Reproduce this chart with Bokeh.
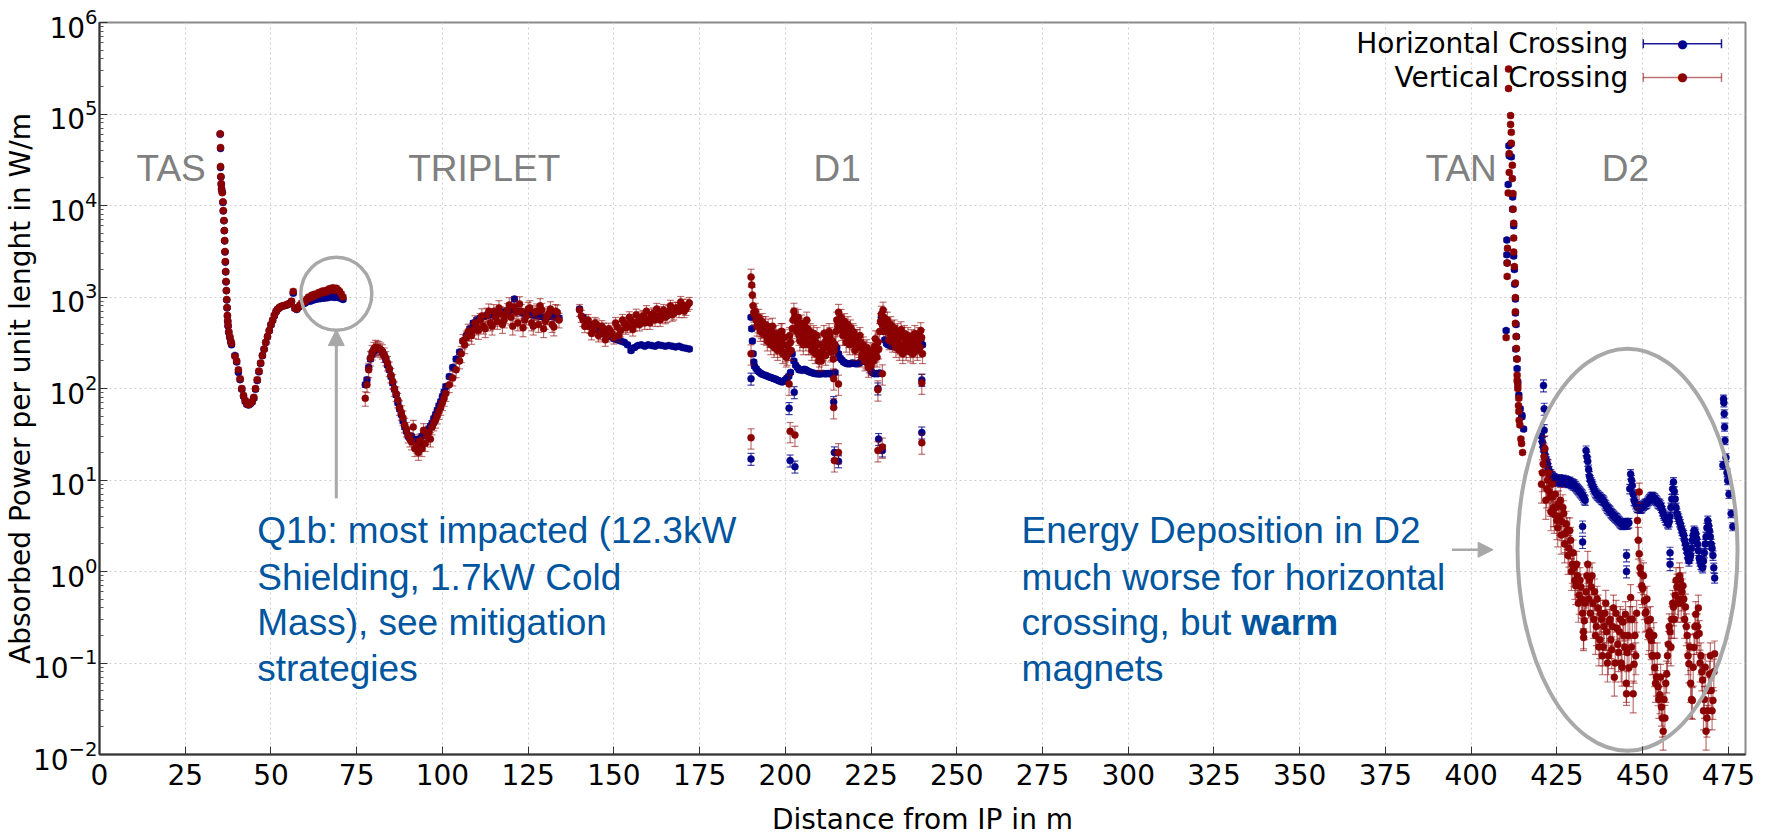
from bokeh.plotting import figure
from bokeh.models import (FixedTicker, LogTickFormatter, Label, Arrow, NormalHead,
                          TeeHead, Range1d, ColumnDataSource)
from bokeh.embed import file_html
from bokeh.resources import INLINE

# ---------------- data ----------------
# Segment A : TAS spike
xA = [35.2, 35.3, 35.3, 35.4, 35.5, 35.6, 35.8, 36.0, 36.1, 36.3, 36.4, 36.5, 36.6,
      36.7, 36.8, 36.9, 37.0, 37.1, 37.2, 37.3, 37.4, 37.5, 37.7, 38.0, 38.3, 38.5]
yA_v = [61000, 43000, 26700, 20700, 17400, 15300, 13800, 11000, 8800, 6850, 5330, 4140, 3140,
        2440, 1900, 1480, 1180, 940, 770, 630, 550, 490, 420, 370, 330, 310]
yA_h = [60000, 42000, 26000, 20500, 17000, 15000, 14000, 10800, 8700, 6800, 5300, 4100, 3100,
        2400, 1880, 1460, 1170, 930, 760, 620, 540, 480, 410, 360, 320, 300]

# Segment B : first dip and Q1 rise
xB = [39.5, 40.0, 40.5, 41.0, 41.5, 42.0, 42.5, 43.0,
      43.5, 44.0, 44.5, 45.0, 45.5, 46.0, 46.5, 47.0,
      47.5, 48.0, 48.5, 49.0, 49.5, 50.0, 50.5, 51.0,
      51.5, 52.0, 52.5, 53.0, 53.5, 54.0, 54.5, 55.0,
      55.5, 56.0, 56.5, 57.0, 57.5, 58.0, 58.5, 59.0,
      59.5, 60.0, 60.5, 61.0, 61.5, 62.0, 62.5, 63.0,
      63.5, 64.0, 64.5, 65.0, 65.5, 66.0, 66.5, 67.0,
      67.5, 68.0, 68.5, 69.0, 69.5, 70.0, 70.5, 71.0]
yB_v = [225, 200, 160, 128, 100, 84, 74, 68,
        67, 69, 72, 80, 100, 125, 155, 190,
        230, 270, 320, 370, 430, 500, 560, 630,
        700, 740, 770, 790, 800, 810, 820, 840,
        850, 900, 1150, 760, 740, 780, 820, 860,
        880, 900, 950, 1000, 980, 1050, 1020, 1080,
        1060, 1120, 1100, 1160, 1120, 1180, 1150, 1230,
        1200, 1260, 1180, 1250, 1200, 1150, 1080, 1000]
yB_h = [230, 195, 150, 125, 98, 82, 72, 67,
        66, 68, 71, 78, 98, 122, 152, 188,
        228, 268, 318, 368, 428, 495, 555, 625,
        690, 735, 765, 785, 795, 805, 815, 835,
        845, 890, 1100, 750, 730, 770, 800, 830,
        850, 860, 890, 910, 900, 930, 930, 950,
        950, 960, 960, 980, 970, 990, 980, 1000,
        1000, 1010, 990, 1000, 990, 980, 960, 940]

# Segment C : triplet
xC = [77.5, 78.0, 78.5, 79.0, 79.5, 80.0, 80.5, 81.0,
      81.5, 82.0, 82.5, 83.0, 83.5, 84.0, 84.5, 85.0,
      85.5, 86.0, 86.5, 87.0, 87.5, 88.0, 88.5, 89.0,
      89.5, 90.0, 90.5, 91.0, 91.5, 92.0, 92.5, 93.0,
      93.5, 94.0, 94.5, 95.0, 95.5, 96.0, 96.5, 97.0,
      97.5, 98.0, 98.5, 99.0, 99.5, 100.0, 100.5, 101.0,
      102, 103, 104, 105, 106, 107, 108, 109,
      110, 111, 112, 113, 114, 115, 116, 117,
      118, 119, 120, 121, 122, 123, 124, 125,
      126, 127, 128, 129, 130, 131, 132, 133, 134]
yC_v = [78, 110, 160, 215, 250, 270, 285, 280,
        275, 265, 255, 235, 215, 190, 165, 140,
        120, 100, 88, 75, 62, 55, 48, 40,
        36, 31, 28, 26, 38, 22, 24, 20,
        27, 22, 35, 25, 30, 33, 28, 38,
        42, 45, 50, 56, 62, 70, 78, 88,
        110, 130, 160, 200, 330, 360, 400, 430,
        470, 560, 480, 640, 520, 700, 540, 660,
        560, 720, 600, 780, 520, 700, 560, 740,
        520, 680, 500, 720, 540, 660, 500, 700, 560]
yC_h = [110, 125, 170, 210, 235, 255, 270, 275,
        270, 262, 250, 230, 205, 180, 160, 135,
        115, 98, 85, 70, 60, 52, 44, 38,
        34, 30, 29, 30, 28, 27, 26, 28,
        24, 30, 31, 33, 34, 36, 39, 42,
        47, 52, 58, 65, 72, 82, 92, 105,
        135, 170, 210, 250, 330, 380, 450, 520,
        560, 590, 610, 630, 640, 660, 670, 680,
        690, 700, 720, 950, 700, 680, 660, 650,
        640, 630, 620, 610, 600, 610, 620, 600, 590]
# extra vertical-crossing points in the noisy triplet plateau
xC2 = [105.5, 106.5, 107.5, 108.5, 109.5, 110.5, 111.5, 112.5, 113.5, 114.5,
       115.5, 116.5, 117.5, 118.5, 119.5, 120.5, 121.5, 122.5, 123.5, 124.5,
       125.5, 126.5, 127.5, 128.5, 129.5, 130.5, 131.5, 132.5, 133.5]
yC2_v = [240, 300, 420, 380, 520, 430, 620, 450, 700, 480,
         600, 760, 500, 640, 820, 480, 680, 840, 460, 620,
         760, 480, 700, 800, 450, 620, 740, 470, 680]

# Segment D : 140 - 172 m
xD = [140, 141, 142, 143, 144, 145, 146, 147, 148, 149, 150,
      151, 152, 153, 154, 155, 156, 157, 158, 159, 160, 161,
      162, 163, 164, 165, 166, 167, 168, 169, 170, 171, 172]
yD_v = [720, 560, 520, 470, 440, 500, 400, 450, 380, 420, 360,
        470, 430, 520, 480, 560, 500, 540, 600, 520, 580, 640,
        560, 620, 680, 600, 700, 640, 760, 700, 820, 740, 860]
yD_h = [740, 600, 540, 500, 470, 440, 420, 400, 380, 370, 350,
        340, 330, 320, 300, 260, 280, 295, 300, 290, 300, 295,
        290, 300, 295, 290, 295, 290, 285, 290, 280, 275, 270]
xD2 = [140.5, 141.5, 142.5, 143.5, 144.5, 145.5, 146.5, 147.5, 148.5, 149.5,
       150.5, 151.5, 152.5, 153.5, 154.5, 155.5, 156.5, 157.5, 158.5, 159.5,
       160.5, 161.5, 162.5, 163.5, 164.5, 165.5, 166.5, 167.5, 168.5, 169.5,
       170.5, 171.5]
yD2_v = [620, 480, 560, 400, 520, 380, 480, 340, 450, 400,
         520, 380, 560, 460, 600, 440, 640, 500, 620, 700,
         520, 660, 740, 560, 720, 620, 800, 660, 760, 880,
         700, 820]

# Segment E : D1
xE = [190.0, 190.2, 190.4, 190.6, 190.8,
      191.0, 191.5, 192.0, 192.5, 193.0, 193.5, 194.0, 194.5, 195.0, 195.5,
      196.0, 196.5, 197.0, 197.5, 198.0, 198.5, 199.0, 199.5, 200.0, 200.5,
      201.0, 201.5, 202.0, 202.5, 203.0, 203.5, 204.0, 204.5, 205.0, 205.5,
      206.0, 206.5, 207.0, 207.5, 208.0, 208.5, 209.0, 209.5, 210.0, 210.5,
      211.0, 211.5, 212.0, 212.5, 213.0, 213.5, 214.0, 214.5, 215.0, 215.5,
      216.0, 216.5, 217.0, 217.5, 218.0, 218.5, 219.0, 219.5, 220.0, 220.5,
      221.0, 221.5, 222.0, 222.5, 223.0, 223.5, 224.0, 224.5, 225.0, 225.5,
      226.0, 226.5, 227.0, 227.5, 228.0, 228.5, 229.0, 229.5, 230.0, 230.5,
      231.0, 231.5, 232.0, 232.5, 233.0, 233.5, 234.0, 234.5, 235.0, 235.5,
      236.0, 236.5, 237.0, 237.5, 238.0, 238.5, 239.0, 239.5, 240.0]
yE_v = [1650, 1350, 1050, 800, 680,
        640, 560, 520, 470, 450, 500, 420, 380, 470, 360,
        420, 390, 330, 300, 360, 280, 420, 300, 250, 230,
        260, 320, 450, 700, 560, 480, 380, 440, 360, 420,
        330, 450, 380, 300, 350, 280, 320, 250, 220, 200,
        260, 320, 360, 300, 380, 260, 210, 300, 560, 680,
        520, 430, 480, 380, 440, 360, 460, 340, 400, 300,
        360, 280, 320, 240, 270, 210, 230, 190, 180, 230,
        290, 250, 320, 420, 650, 720, 560, 480, 430, 400,
        450, 360, 400, 320, 350, 300, 380, 280, 340, 300,
        330, 250, 300, 280, 340, 260, 380, 430, 240]
yE_h = [600, 450, 330, 240, 195,
        175, 165, 155, 150, 145, 142, 140, 138, 135, 133,
        131, 129, 127, 125, 122, 120, 118, 120, 125, 130,
        136, 150, 240, 200, 180, 170, 160, 160, 158, 162,
        160, 155, 152, 150, 148, 146, 145, 145, 144, 145,
        146, 145, 145, 146, 145, 144, 145, 150, 280, 240,
        215, 205, 195, 190, 187, 186, 187, 190, 188, 187,
        186, 190, 195, 200, 205, 200, 190, 170, 155, 148,
        145, 146, 145, 148, 600, 420, 340, 310, 300, 295,
        290, 288, 285, 283, 280, 280, 282, 280, 278, 280,
        282, 285, 280, 283, 290, 300, 320, 340, 300]
xE2 = [191.25, 191.75, 192.25, 192.75, 193.25, 193.75, 194.25, 194.75, 195.25, 195.75,
       196.25, 196.75, 197.25, 197.75, 198.25, 198.75, 199.25, 199.75, 200.25, 200.75,
       201.25, 201.75, 202.25, 202.75, 203.25, 203.75, 204.25, 204.75, 205.25, 205.75,
       206.25, 206.75, 207.25, 207.75, 208.25, 208.75, 209.25, 209.75, 210.25, 210.75,
       211.25, 211.75, 212.25, 212.75, 213.25, 213.75, 214.25, 214.75, 215.25, 215.75,
       216.25, 216.75, 217.25, 217.75, 218.25, 218.75, 219.25, 219.75, 220.25, 220.75,
       221.25, 221.75, 222.25, 222.75, 223.25, 223.75, 224.25, 224.75, 225.25, 225.75,
       226.25, 226.75, 227.25, 227.75, 228.25, 228.75, 229.25, 229.75, 230.25, 230.75,
       231.25, 231.75, 232.25, 232.75, 233.25, 233.75, 234.25, 234.75, 235.25, 235.75,
       236.25, 236.75, 237.25, 237.75, 238.25, 238.75, 239.25, 239.75]
yE2_v = [700, 480, 600, 420, 540, 390, 500, 330, 420, 300,
         480, 280, 400, 260, 330, 420, 240, 360, 220, 300,
         380, 260, 560, 620, 420, 600, 330, 520, 300, 480,
         560, 300, 420, 260, 400, 240, 380, 200, 300, 250,
         400, 230, 280, 420, 250, 330, 260, 420, 480, 560,
         600, 380, 540, 320, 500, 300, 380, 420, 260, 360,
         300, 380, 220, 300, 200, 280, 170, 260, 220, 200,
         350, 220, 270, 540, 500, 600, 420, 560, 340, 500,
         320, 460, 280, 420, 260, 440, 240, 400, 260, 380,
         280, 360, 240, 400, 300, 330, 280, 360]

# Segment F : TAN spike (each crossing has its own positions)
xF_v = [410.9, 410.9, 411.5, 411.5, 411.7, 411.7, 411.1, 412.0, 411.1, 412.0,
        410.8, 412.2, 412.2, 412.4, 412.4, 410.6, 412.4, 410.5, 410.5, 412.6,
        412.9, 412.9, 412.9, 412.9, 413.1, 410.2, 413.2, 413.4, 413.4, 413.6,
        413.9, 413.9, 413.4, 413.6, 413.8, 414.0, 414.2, 414.5, 414.7, 415.0]
yF_v = [310000, 190000, 96000, 77000, 63000, 48000, 37000, 27500, 23000, 19700,
        13700, 13500, 9100, 6400, 4400, 3400, 3100, 2350, 1680, 2150,
        1420, 985, 690, 515, 370, 360, 274, 210, 140, 109,
        78, 56, 122, 100, 65, 45, 40, 28, 25, 20]
xF_h = [411.0, 411.6, 411.1, 411.7, 410.8, 412.1, 412.1, 412.4, 410.4, 410.4,
        412.4, 410.5, 412.6, 412.7, 412.9, 412.9, 413.1, 410.2, 413.2, 413.4,
        413.6, 413.9, 414.3, 414.8, 414.8, 415.3, 413.0, 413.3]
yF_h = [45000, 47000, 35000, 34000, 17000, 12400, 9100, 6000, 4200, 2900,
        2800, 2350, 2000, 1380, 950, 670, 500, 430, 370, 165,
        118, 85, 60, 51, 49, 36, 270, 210]

# Segment G : D2
xG = [420.5, 421.0, 421.5, 422.0, 422.5, 423.0, 423.5, 424.0, 424.5, 425.0,
      425.5, 426.0, 426.5, 427.0, 427.5, 428.0, 428.5, 429.0, 429.5, 430.0,
      430.5, 431.0, 431.5, 432.0, 432.5, 433.0, 433.5, 434.0, 434.5, 435.0,
      435.5, 436.0, 436.5, 437.0, 437.5, 438.0, 438.5, 439.0, 439.5, 440.0,
      440.5, 441.0, 441.5, 442.0, 442.5, 443.0, 443.5, 444.0, 444.5, 445.0,
      445.5, 446.0, 446.5, 447.0, 447.5, 448.0, 448.5, 449.0, 449.5, 450.0,
      450.5, 451.0, 451.5, 452.0, 452.5, 453.0, 453.5, 454.0, 454.5, 455.0,
      455.5, 456.0, 456.5, 457.0, 457.5, 458.0, 458.5, 459.0, 459.5, 460.0,
      460.5, 461.0, 461.5, 462.0, 462.5, 463.0, 463.5, 464.0, 464.5, 465.0,
      465.5, 466.0, 466.5, 467.0, 467.5, 468.0, 468.5, 469.0, 469.5, 470.0,
      470.5, 471.0]
yG_v = [9, 15, 22, 8, 12, 6.5, 9, 5, 7, 3.6,
        5.5, 6, 3.5, 4.3, 2.6, 2.8, 1.8, 2.2, 1.2, 1.1,
        0.7, 0.9, 0.55, 0.68, 0.35, 0.29, 0.6, 1.2, 0.8, 0.68,
        0.45, 0.6, 0.25, 0.4, 0.18, 0.3, 0.15, 0.35, 0.22, 0.12,
        0.3, 0.14, 0.4, 0.1, 0.24, 0.13, 0.3, 0.09, 0.2, 0.34,
        0.13, 0.089, 0.52, 0.3, 0.097, 0.12, 3.6, 1.56, 0.95, 0.65,
        0.48, 0.36, 0.29, 0.22, 0.176, 0.12, 0.089, 0.07, 0.055, 0.045,
        0.033, 0.018, 0.025, 0.076, 0.16, 0.22, 0.3, 0.41, 0.55, 0.68,
        0.5, 0.8, 0.6, 0.5, 0.41, 0.2, 0.098, 0.06, 0.039, 0.148,
        0.34, 0.25, 0.21, 0.12, 0.065, 0.04, 0.018, 0.03, 0.076, 0.05,
        0.039, 0.126]
yG_h = [30, 23, 19, 16, 13.5, 11.7, 11, 10.5, 10.2, 9.9,
        10, 9.9, 10, 9.8, 9.9, 9.7, 9.5, 9.3, 9.2, 9.0,
        8.5, 8.0, 7.6, 7.2, 6.8, 6.2, 21, 16, 11, 9.5,
        8.5, 7.6, 7.1, 6.8, 6.5, 6.2, 6.0, 5.5, 5.1, 4.8,
        4.6, 4.3, 4.1, 3.9, 3.8, 3.6, 3.4, 3.3, 3.3, 3.4,
        3.3, 3.4, 11.6, 8.7, 6.0, 5.5, 5.0, 5.0, 4.9, 5.2,
        5.4, 5.5, 5.8, 6.2, 6.5, 6.5, 6.3, 6.0, 5.6, 5.5,
        5.0, 4.3, 3.9, 3.6, 3.3, 4.0, 6.2, 9.5, 6.2, 4.3,
        3.8, 3.3, 2.8, 2.5, 2.0, 1.6, 1.3, 1.5, 2.2, 2.8,
        2.6, 2.0, 1.4, 1.2, 1.1, 1.6, 2.4, 3.6, 2.8, 2.0,
        1.5, 0.85]
xG2 = [420.75, 421.25, 421.75, 422.25, 422.75, 423.25, 423.75, 424.25, 424.75, 425.25,
       425.75, 426.25, 426.75, 427.25, 427.75, 428.25, 428.75, 429.25, 429.75, 430.25,
       430.75, 431.25, 431.75, 432.25, 432.75, 433.25, 433.75, 434.25, 434.75, 435.25,
       435.75, 436.25, 436.75, 437.25, 437.75, 438.25, 438.75, 439.25, 439.75, 440.25,
       440.75, 441.25, 441.75, 442.25, 442.75, 443.25, 443.75, 444.25, 444.75, 445.25,
       445.75, 446.25, 446.75, 447.25, 447.75, 448.25, 448.75, 449.25, 449.75, 450.25,
       450.75, 451.25, 451.75, 452.25, 452.75, 453.25, 453.75, 454.25, 454.75, 455.25,
       455.75, 456.25, 456.75, 457.25, 457.75, 458.25, 458.75, 459.25, 459.75, 460.25,
       460.75, 461.25, 461.75, 462.25, 462.75, 463.25, 463.75, 464.25, 464.75, 465.25,
       465.75, 466.25, 466.75, 467.25, 467.75, 468.25, 468.75, 469.25, 469.75, 470.25,
       470.75]
yG2_v = [12, 18, 6, 10, 7.5, 4.5, 6.5, 4.2, 5, 3,
         4, 2.5, 5, 2, 3.3, 1.5, 2.8, 1.0, 1.6, 0.8,
         1.2, 0.45, 0.8, 0.5, 0.22, 0.45, 0.9, 0.5, 0.35, 0.9,
         0.3, 0.2, 0.5, 0.15, 0.35, 0.12, 0.25, 0.45, 0.1, 0.28,
         0.18, 0.25, 0.07, 0.35, 0.16, 0.22, 0.1, 0.28, 0.15, 0.06,
         0.2, 0.3, 0.15, 0.046, 0.2, 0.35, 2.2, 1.1, 0.7, 0.9,
         0.35, 0.5, 0.2, 0.3, 0.12, 0.2, 0.06, 0.12, 0.04, 0.07,
         0.025, 0.04, 0.06, 0.12, 0.25, 0.15, 0.45, 0.3, 0.8, 0.45,
         0.9, 0.45, 0.7, 0.3, 0.25, 0.12, 0.15, 0.04, 0.09, 0.25,
         0.2, 0.4, 0.1, 0.08, 0.03, 0.09, 0.025, 0.05, 0.12, 0.03,
         0.08]
yG2_h = [26, 21, 17, 15, 12.5, 11.5, 10.8, 10.4, 10, 9.7,
         10.2, 9.6, 10.1, 9.5, 9.8, 9.4, 9.6, 9.1, 8.8, 8.7,
         8.2, 7.8, 7.4, 7.0, 6.5, 6.0, 18, 13, 10, 9,
         8, 7.3, 6.9, 6.6, 6.4, 6.1, 5.8, 5.3, 4.9, 4.7,
         4.4, 4.2, 4.0, 3.85, 3.7, 3.5, 3.35, 3.25, 3.35, 3.3,
         3.35, 8, 10, 7, 5.8, 5.2, 5.0, 4.9, 5.0, 5.3,
         5.5, 5.6, 6.0, 6.4, 6.6, 6.4, 6.1, 5.8, 5.5, 5.3,
         4.6, 4.1, 3.7, 3.4, 3.5, 5, 8, 7.5, 5, 4,
         3.5, 3.0, 2.6, 2.2, 1.8, 1.4, 1.4, 1.8, 2.5, 2.7,
         2.3, 1.7, 1.3, 1.15, 1.3, 2.0, 3.0, 3.2, 2.4, 1.8,
         1.1]

# isolated points
xO_h = [190.0, 190.0, 201.1, 201.4, 202.8, 202.6, 214.1, 214.3, 215.5, 227.0, 227.2, 228.3,
        239.8, 239.8, 421.1, 421.3, 421.3, 432.5, 432.5, 445.3, 445.3, 458.0, 458.0]
yO_h = [128, 17, 61, 16.3, 14, 91, 71, 20, 16, 100, 28, 21,
        124, 33, 108, 60, 35, 3.1, 2.1, 1.5, 1.0, 1.6, 1.2]
xO_v = [190.0, 190.0, 201.1, 201.4, 202.8, 214.1, 214.3, 215.5, 214.1, 215.5,
        227.0, 227.0, 228.3, 228.3, 239.8, 239.8, 432.8, 449.0, 445.3]
yO_v = [240, 29, 112, 34, 31, 62, 16.3, 20, 128, 112,
        97, 21, 23, 145, 115, 25.5, 0.19, 7.4, 0.046]

# horizontal crossing, end of D2 region
xR_h = [473.6, 473.7, 473.8, 473.9, 474.0, 473.4, 474.3, 474.6, 474.8, 475.2, 475.8, 476.3]
yR_h = [77, 70, 53, 38, 27, 14.5, 17.6, 12, 9.9, 7, 4.3, 3.1]

# relative error bar size per part
rel_err_h = [0.03, 0.04, 0.06, 0.05, 0.05, 0.05, 0.12, 0.12, 0.15, 0.10]
rel_err_v = [0.03, 0.06, 0.18, 0.2, 0.15, 0.15, 0.22, 0.22, 0.05, 0.38, 0.38, 0.25]

x_ticks = [0, 25, 50, 75, 100, 125, 150, 175, 200, 225, 250, 275, 300, 325, 350,
           375, 400, 425, 450, 475]
y_ticks = [1e-2, 1e-1, 1e0, 1e1, 1e2, 1e3, 1e4, 1e5, 1e6]

region_names = ["TAS", "TRIPLET", "D1", "TAN", "D2"]
legend_names = ["Horizontal Crossing", "Vertical Crossing"]

BLUE = "#00008B"
RED = "#8B0000"
GREY = "#A8A8A8"
TXT_BLUE = "#00559F"


def assemble(parts, errs):
    xs, ys, lo, hi = [], [], [], []
    for (px, py), e in zip(parts, errs):
        assert len(px) == len(py), (len(px), len(py))
        xs += list(px)
        ys += list(py)
        lo += [v * (1 - e) for v in py]
        hi += [v * (1 + e) for v in py]
    return ColumnDataSource(dict(x=xs, y=ys, lo=lo, hi=hi))


assert len(rel_err_h) == 10 and len(rel_err_v) == 12
src_h = assemble([(xA, yA_h), (xB, yB_h), (xC, yC_h), (xD, yD_h), (xE, yE_h),
                  (xF_h, yF_h), (xG, yG_h), (xG2, yG2_h), (xO_h, yO_h), (xR_h, yR_h)],
                 rel_err_h)
src_v = assemble([(xA, yA_v), (xB, yB_v), (xC, yC_v), (xC2, yC2_v), (xD, yD_v),
                  (xD2, yD2_v), (xE, yE_v), (xE2, yE2_v), (xF_v, yF_v), (xG, yG_v),
                  (xG2, yG2_v), (xO_v, yO_v)], rel_err_v)

# ---------------- figure ----------------
p = figure(width=1775, height=839, y_axis_type="log",
           x_range=Range1d(0, 480), y_range=Range1d(1e-2, 1e6),
           output_backend="svg", toolbar_location=None,
           min_border_left=98, min_border_right=30, min_border_top=22, min_border_bottom=85,
           background_fill_color="white", border_fill_color="white")
p.outline_line_color = "#8a8a8a"
p.outline_line_width = 2

y_minor = [m * 10.0 ** e for e in range(-2, 6) for m in range(2, 10)]
xt = FixedTicker(ticks=x_ticks)
yt = FixedTicker(ticks=y_ticks, minor_ticks=y_minor)

xa = p.xaxis[0]
ya = p.yaxis[0]
xa.ticker = xt
ya.ticker = yt
ya.formatter = LogTickFormatter()
p.xgrid[0].ticker = xt
p.ygrid[0].ticker = yt
for g in (p.xgrid[0], p.ygrid[0]):
    g.grid_line_color = "#cfcfcf"
    g.grid_line_dash = "2 3"
    g.grid_line_width = 1

for ax in (xa, ya):
    ax.axis_line_color = "#333333"
    ax.axis_line_width = 2
    ax.major_tick_in = 8
    ax.major_tick_out = 0
    ax.minor_tick_in = 4
    ax.minor_tick_out = 0
    ax.major_tick_line_color = "#333333"
    ax.minor_tick_line_color = "#555555"
    ax.major_label_text_font = "DejaVu Sans"
    ax.major_label_text_font_size = "28px"
    ax.major_label_text_color = "black"
    ax.axis_label_text_font = "DejaVu Sans"
    ax.axis_label_text_font_size = "28px"
    ax.axis_label_text_font_style = "normal"
    ax.axis_label_text_color = "black"

xa.axis_label = "Distance from IP in m"
xa.major_label_standoff = 9
xa.axis_label_standoff = 15
xa.minor_tick_in = 0
ya.axis_label = "Absorbed Power per unit lenght in W/m"
ya.major_label_standoff = 2
ya.axis_label_standoff = -7

# ---------------- data marks ----------------
for src, col, alpha in ((src_h, BLUE, 0.75), (src_v, RED, 0.55)):
    p.segment(x0="x", y0="lo", x1="x", y1="hi", source=src, line_color=col,
              line_alpha=alpha, line_width=1.2)
    p.scatter(x="x", y="lo", source=src, marker="dash", size=7, line_color=col,
              line_alpha=alpha, line_width=1.2)
    p.scatter(x="x", y="hi", source=src, marker="dash", size=7, line_color=col,
              line_alpha=alpha, line_width=1.2)
    p.scatter(x="x", y="y", source=src, marker="circle", size=7, fill_color=col,
              line_color=col, line_width=0.5)

# ---------------- annotations ----------------
region_x = [10.8, 90.0, 208.2, 386.7, 438.1]
for name, rx in zip(region_names, region_x):
    p.add_layout(Label(x=rx, y=25070, text=name, text_font="Liberation Sans",
                       text_font_size="37px", text_color="#808080",
                       text_baseline="middle", text_align="left"))

# Q1b circle + arrow
p.ellipse(x=[69.06], y=[1084], width=71, height=73, width_units="screen",
          height_units="screen", fill_color=None, line_color=GREY, line_width=3.5)
p.add_layout(Arrow(end=NormalHead(size=16, fill_color=GREY, line_color=GREY),
                   x_start=69.06, y_start=6.3, x_end=69.06, y_end=440,
                   line_color=GREY, line_width=3))

text_rows_y = [2.81, 0.869, 0.2754, 0.0871]
q_lines = ["Q1b: most impacted (12.3kW", "Shielding, 1.7kW Cold",
           "Mass), see mitigation", "strategies"]
for t, yy in zip(q_lines, text_rows_y):
    p.add_layout(Label(x=46.0, y=yy, text=t, text_font="Liberation Sans",
                       text_font_size="37px", text_color=TXT_BLUE,
                       text_baseline="middle"))

# D2 ellipse + arrow
p.ellipse(x=[445.6], y=[1.73], width=220, height=402, width_units="screen",
          height_units="screen", fill_color=None, line_color=GREY, line_width=4)
p.add_layout(Arrow(end=NormalHead(size=15, fill_color=GREY, line_color=GREY),
                   x_start=394.4, y_start=1.73, x_end=406.4, y_end=1.73,
                   line_color=GREY, line_width=2.5))

e_lines = ["Energy Deposition in D2", "much worse for horizontal",
           "crossing, but ", "magnets"]
for t, yy in zip(e_lines, text_rows_y):
    p.add_layout(Label(x=268.9, y=yy, text=t, text_font="Liberation Sans",
                       text_font_size="37px", text_color=TXT_BLUE,
                       text_baseline="middle"))
p.add_layout(Label(x=333.0, y=text_rows_y[2], text="warm", text_font="Liberation Sans",
                   text_font_size="37px", text_color=TXT_BLUE, text_font_style="bold",
                   text_baseline="middle"))

# legend (label first, marker with error bar after)
leg_y = [5.85e5, 2.51e5]
for name, yy, col, alpha in zip(legend_names, leg_y, (BLUE, RED), (0.9, 0.55)):
    p.add_layout(Label(x=445.8, y=yy, text=name, text_font="DejaVu Sans",
                       text_font_size="28px", text_color="black",
                       text_align="right", text_baseline="middle"))
    p.add_layout(Arrow(start=TeeHead(size=9, line_color=col, line_alpha=alpha, line_width=1.5),
                       end=TeeHead(size=9, line_color=col, line_alpha=alpha, line_width=1.5),
                       x_start=450.2, y_start=yy, x_end=473.0, y_end=yy,
                       line_color=col, line_alpha=alpha, line_width=1.5))
    p.add_layout(Label(x=461.6, y=yy, text="\u25cf", text_font="DejaVu Sans",
                       text_font_size="12px", text_color=col,
                       text_align="center", text_baseline="middle"))

open("out.html", "w").write(file_html(p, INLINE))
